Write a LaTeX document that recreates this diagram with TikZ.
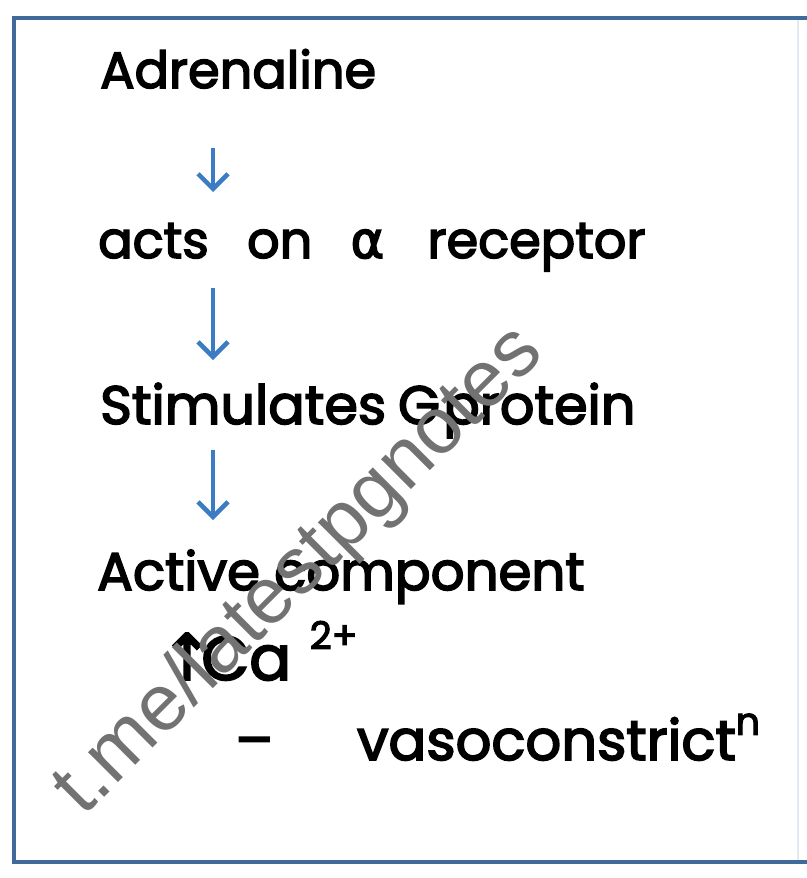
\documentclass[tikz,border=0pt]{standalone}
\usepackage{fontspec}
\setmainfont{Poppins}[FakeBold=3]
\newfontfamily\symfont{DejaVu Sans}[FakeBold=3]
\newfontfamily\markfont{Liberation Sans}
\usetikzlibrary{arrows.meta}

\definecolor{boxblue}{HTML}{3F6A9A}
\definecolor{arrowblue}{HTML}{3C7CC4}
\definecolor{markgray}{HTML}{727272}

\newcommand{\hsup}[2]{\raisebox{#1}{\fontsize{38}{38}\selectfont #2}}

\tikzset{
  hand/.style={anchor=base west, inner sep=0pt, font=\fontsize{51}{56}\selectfont},
  flow/.style={->, draw=arrowblue, line width=4.5pt},
}

\begin{document}
\begin{tikzpicture}[x=1pt, y=-1pt, >={Straight Barb[length=15pt, width=30pt]}]
\useasboundingbox (0,0) rectangle (806,878);
\fill[white] (0,0) rectangle (806,878);
% frame
\draw[boxblue, line width=4pt] (810,18) -- (14,18) -- (14,862) -- (810,862);
\draw[boxblue!15, line width=2pt] (798,20) -- (798,860);
% steps of the pathway
\node[hand] (adr) at (100,88) {Adrenaline};
\node[hand] (rec) at (98,258) {acts\hspace{.75em}on\hspace{.75em}{\symfont α}\hspace{.85em}receptor};
\node[hand, font=\fontsize{54}{58}\selectfont] (gpr) at (100,424) {Stimulates\hspace{.22em}G\hspace{.06em}protein};
\node[hand, font=\fontsize{53}{58}\selectfont] (act) at (97,590) {Active component};
\node[hand, font=\fontsize{62}{64}\selectfont] (cal) at (160,680) {{\fontsize{64}{64}\selectfont\symfont ↑}\hspace{-.2em}Ca\hspace{.3em}\hsup{.5em}{2+}};
\node[hand, font=\fontsize{56}{60}\selectfont] (vas) at (235,760) {–\hspace{1.5em}vasoconstrict\hsup{.45em}{n}};
% arrows
\coordinate (a1) at (213,148);\coordinate (b1) at (213,192);
\coordinate (a2) at (213,288);\coordinate (b2) at (213,360);
\coordinate (a3) at (213,450);\coordinate (b3) at (213,520);
\draw[flow] (a1) -- (b1);
\draw[flow] (a2) -- (b2);
\draw[flow] (a3) -- (b3);
% watermark
\node[markgray, rotate=45, inner sep=0pt, font=\markfont\fontsize{80}{86}\selectfont] (mark) at (300,572) {t.me/latestpgnotes};
\end{tikzpicture}
\end{document}
